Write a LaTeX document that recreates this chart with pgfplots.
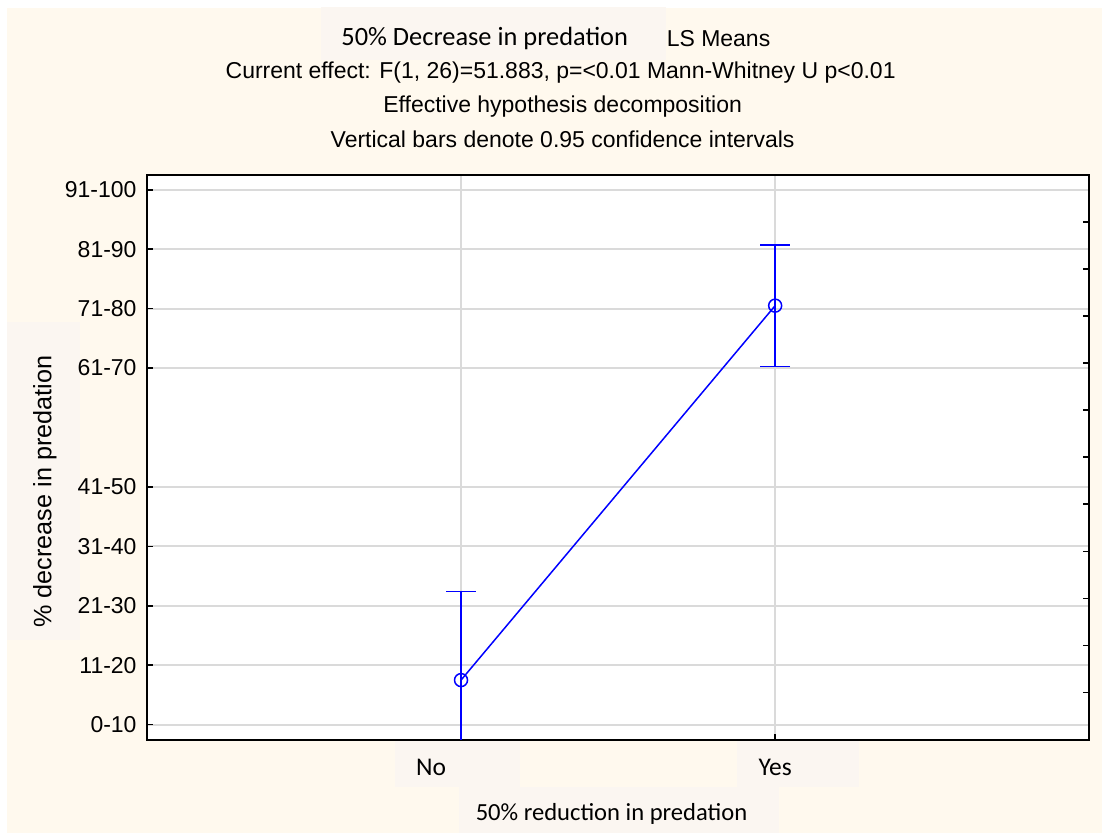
\documentclass[border=0pt]{standalone}
\usepackage{pgfplots}
\pgfplotsset{compat=1.18}
\usepackage{fontspec}
\setmainfont{Liberation Sans}
\newfontfamily\arial{Liberation Sans}
\newfontfamily\calibri{Carlito}
\definecolor{cream}{RGB}{255,249,238}
\definecolor{labelbg}{RGB}{251,246,241}
\definecolor{gridgray}{RGB}{218,218,218}
\newcommand{\arialsize}{\arial\fontsize{11.5pt}{13.5pt}\selectfont}
\newcommand{\ylabsize}{\arial\fontsize{12.6pt}{14.5pt}\selectfont}
\newcommand{\calsize}{\calibri\fontsize{12.75pt}{15pt}\selectfont}
\newcommand{\calhead}{\calibri\fontsize{13.2pt}{15pt}\selectfont}
\newcommand{\calxlab}{\calibri\fontsize{12.3pt}{15pt}\selectfont}

\begin{document}
\begin{tikzpicture}
% page background, label panels and header (pixel grid, y downwards)
\begin{scope}[x=0.5pt,y=-0.5pt]
  \useasboundingbox (0,0) rectangle (1103,834);
  \fill[white] (0,0) rectangle (1103,834);
  \fill[cream] (7,8) rectangle (1103,834);
  \fill[labelbg] (321,7) rectangle (666,60);
  \fill[labelbg] (7,322) rectangle (80,640);
  \fill[labelbg] (395,740) rectangle (520,788);
  \fill[labelbg] (737,740) rectangle (860,788);
  \fill[labelbg] (459,788) rectangle (780,834);
  \node[anchor=base, inner sep=0pt, font=\calhead] at (485,46) {50\% Decrease in predation};
  \node[anchor=base, inner sep=0pt, font=\arialsize] at (719,47) {LS Means};
  \node[anchor=base, inner sep=0pt, font=\arialsize] at (561,79) {Current effect: F(1, 26)=51.883, p=<0.01 Mann-Whitney U p<0.01};
  \node[anchor=base, inner sep=0pt, font=\arialsize] at (563,113) {Effective hypothesis decomposition};
  \node[anchor=base, inner sep=0pt, font=\arialsize] at (563,148) {Vertical bars denote 0.95 confidence intervals};
\end{scope}

\begin{axis}[
  at={(73.5pt,-370pt)}, anchor=south west,
  width=471.5pt, height=282.5pt, scale only axis,
  xmin=0, xmax=3, ymin=0.75, ymax=10.25,
  axis background/.style={fill=white},
  axis line style={black, line width=1pt},
  xtick={1,2},
  xticklabels={\makebox[0pt]{\hspace{-30pt}No}, Yes},
  ytick={1,2,3,4,5,7,8,9,10},
  yticklabels={0-10,11-20,21-30,31-40,41-50,61-70,71-80,81-90,91-100},
  xtick pos=bottom, ytick pos=left,
  tick align=inside, major tick length=3pt,
  tick style={black, line width=0.8pt},
  grid=major, major grid style={gridgray, line width=0.9pt},
  xticklabel style={font=\calsize, anchor=base, inner sep=0pt, yshift=-18pt},
  yticklabel style={font=\arialsize, anchor=east, inner sep=0pt, xshift=-5pt},
  xlabel={50\% reduction in predation},
  xlabel style={font=\calxlab, at={(axis description cs:0.493,-0.1434)}, anchor=base, inner sep=0pt},
  ylabel={\% decrease in predation},
  ylabel style={font=\ylabsize, at={(axis description cs:-0.1082,0.439)}, anchor=center, inner sep=0pt},
]
\addplot[blue, line width=0.75pt, mark=o, mark size=3.25pt,
  mark options={solid, line width=0.75pt},
  error bars/.cd, y dir=both, y explicit,
  error bar style={blue, line width=0.75pt},
  error mark options={rotate=90, blue, mark size=7.5pt, line width=0.75pt}]
  coordinates {
    (1,1.75) +- (0,1.49)
    (2,8.05) +- (0,1.02)
  };
\end{axis}

% right-hand scale ticks
\begin{axis}[
  at={(73.5pt,-370pt)}, anchor=south west,
  width=471.5pt, height=282.5pt, scale only axis,
  xmin=0, xmax=1, ymin=0, ymax=12,
  xtick=\empty, ytick={1,...,11}, yticklabels={},
  ytick pos=right, tick align=inside, major tick length=3pt,
  tick style={black, line width=0.8pt},
  axis line style={draw=none},
]
\end{axis}
\end{tikzpicture}
\end{document}
